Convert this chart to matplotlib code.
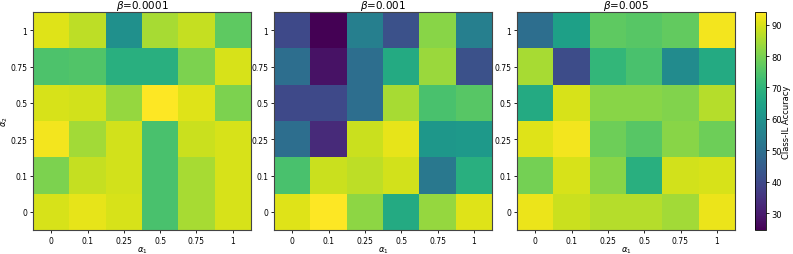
import matplotlib
matplotlib.use("Agg")
import matplotlib.pyplot as plt
import numpy as np

alpha_vals = ["0", "0.1", "0.25", "0.5", "0.75", "1"]
betas = ["0.0001", "0.001", "0.005"]

# rows: alpha_2 = 1, 0.75, 0.5, 0.25, 0.1, 0 (top to bottom); cols: alpha_1 = 0 .. 1
acc_b0001 = [
    [90.6, 87.1, 59.4, 85.0, 87.8, 76.7],
    [74.6, 75.3, 68.4, 68.4, 80.2, 89.9],
    [89.9, 89.2, 83.0, 94.0, 90.6, 80.2],
    [92.7, 84.3, 89.2, 74.0, 88.5, 89.9],
    [80.2, 87.8, 89.2, 74.0, 85.0, 89.9],
    [89.9, 91.3, 89.9, 74.0, 85.0, 89.9],
]
acc_b001 = [
    [40.0, 24.7, 54.5, 42.0, 81.6, 54.5],
    [49.7, 28.2, 49.7, 67.0, 83.6, 42.0],
    [40.0, 40.0, 49.7, 85.0, 74.0, 76.0],
    [49.7, 33.0, 88.5, 91.3, 61.5, 62.0],
    [74.0, 88.5, 87.1, 89.2, 52.4, 68.4],
    [90.6, 94.0, 82.3, 67.0, 83.0, 90.6],
]
acc_b005 = [
    [49.7, 64.2, 76.7, 76.0, 77.4, 92.7],
    [85.0, 40.7, 70.5, 74.0, 58.0, 67.0],
    [67.0, 89.9, 81.6, 81.6, 80.9, 86.4],
    [90.6, 92.7, 78.8, 76.0, 81.6, 78.8],
    [79.5, 89.9, 81.6, 68.4, 89.2, 89.9],
    [92.0, 88.5, 86.4, 86.4, 84.3, 92.0],
]

vmin, vmax = 24.7, 94.0

W, H = 793, 255
fig = plt.figure(figsize=(W / 100, H / 100), dpi=100)

lefts = [33, 274, 517]
size = 218
bottom = H - 231

data = [acc_b0001, acc_b001, acc_b005]
for i, (b, d) in enumerate(zip(betas, data)):
    ax = fig.add_axes([lefts[i] / W, bottom / H, size / W, size / H])
    im = ax.imshow(np.array(d), cmap="viridis", vmin=vmin, vmax=vmax, aspect="auto")
    ax.set_xticks(range(6))
    ax.set_xticklabels(alpha_vals, fontsize=5.5)
    ax.set_yticks(range(6))
    ax.set_yticklabels(alpha_vals[::-1], fontsize=5.5)
    ax.tick_params(length=2.5, width=0.6, pad=1.5)
    ax.set_xlabel(r"$\alpha_1$", fontsize=6, labelpad=0)
    if i == 0:
        ax.set_ylabel(r"$\alpha_2$", fontsize=6, labelpad=0)
    ax.set_title(r"$\beta$=" + b, fontsize=7.5, pad=2)
    for s in ax.spines.values():
        s.set_color("#444444")

cax = fig.add_axes([755 / W, bottom / H, 11 / W, size / H])
cb = fig.colorbar(im, cax=cax)
cb.set_label("Class-IL Accuracy", fontsize=6, labelpad=0)
cb.ax.tick_params(labelsize=6, length=2.5, width=0.6, pad=1.5)
cb.outline.set_linewidth(0.6)

fig.savefig("out.png", dpi=100)
